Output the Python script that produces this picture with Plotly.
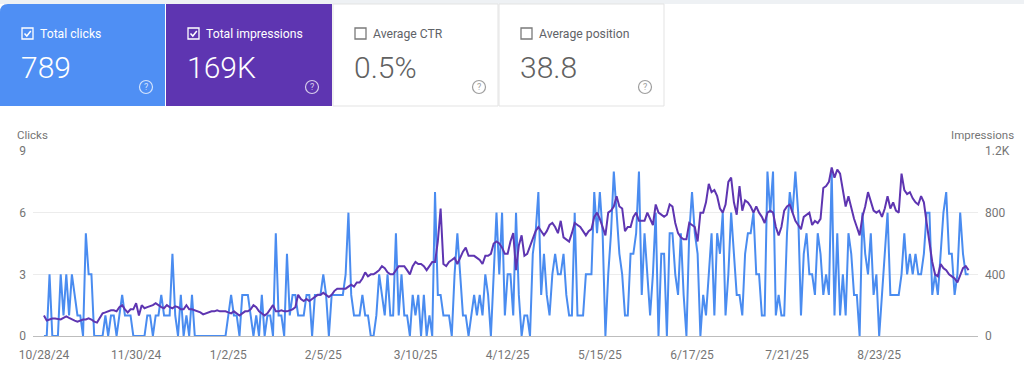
import plotly.graph_objects as go
import pandas as pd

# ---------------- data ----------------
start_date = "2024-10-28"
clicks = [
    0,0,3,0,0,0,3,1,3,1, 3,2,1,1,0,5,3,3,0,0, 0,0,1,0,1,1,0,1,2,1, 1,1,0,0,0,0,0,1,1,0,
    1,1,2,1,1,1,4,1,0,2, 0,1,0,
    2,0,0,0,0,0,0,0,0,0,0,0,0,
    1,2,1,1,0,2,2,2,1,0, 1,0,2,0,1,1,0,5,1,1, 0,4,1,2,2,1,1,1,2,2, 0,2,2,2,3,2,0,2,2,2,
    2,2,3,6,2,1,1,1,2,1, 1,0,0,1,3,2,1,3,1,1, 5,1,3,1,1,0,2,1,2,0, 2,0,1,0,7,2,2,1,1,1,
    0,3,5,3,1,1,0,1,2,1, 2,1,3,2,0,3,6,
    3,6,1,3,3,1,6,2,0,1, 1,0,4,5,7,2,4,2,1,3, 4,3,3,4,2,1,1,6,1,1, 1,3,3,3,7,5,7,5,0,3,
    5,8,6,4,3,1,1,4,4,5, 8,2,5,3,1,3,6,
    0,4,4,0,5,5,3,2,5,2, 0,5,7,5,4,0,2,1,3,5, 1,5,4,6,1,3,6,4,2,2, 1,4,5,5,6,3,3,1,1,8,
    6,8,1,2,1,1,5,7,6,8, 6,1,4,5,3,3,2,5,4,2, 3,
    2,8,1,5,1,3,1,5,4,2, 2,0,6,4,3,5,2,3,0,2, 4,6,2,2,2,2,3,5,3,4, 3,4,3,3,4,6,6,2,3,2,
    4,6,7,4,4,2,3,6,4,3, 3,
]
impressions = [
    133,100,107,113,113,109,107,117,127,117, 107,100,93,100,107,107,115,107,93,87,
    113,147,153,160,167,167,160,187,200,173, 153,173,173,213,133,200,180,187,193,200,
    213,200,187,180,200,187,180,193,187,173, 173,200,173,
    173,167,160,153,140,147,153,160,160,167, 160,160,160,153,147,160,147,133,147,160,
    160,173,200,187,160,147,133,147,173,200, 160,160,167,160,160,167,173,187,267,240,
    227,240,227,240,253,267,267,280,267,253, 267,293,307,
    307,307,307,320,333,320,347,347,373,413, 387,400,400,413,427,453,440,413,400,400,
    427,453,453,453,427,400,453,480,467,467, 453,427,453,480,480,613,827,467,453,480,
    493,507,467,507,547,573,520,520,520,507, 493,467,520,520,533,600,613,
    600,573,533,533,613,667,427,587,653,520, 533,587,627,680,707,680,653,680,720,733,
    707,667,747,640,627,613,667,733,720,707, 680,653,680,693,773,800,760,707,653,800,
    813,840,907,840,827,680,707,707,773,800, 747,747,747,800,760,720,853,
    800,787,773,787,853,840,733,667,640,627, 627,733,720,707,613,800,800,867,987,933,
    947,907,827,800,853,1000,1027,867,787,973, 813,880,867,840,800,840,800,773,733,800,
    813,800,707,653,707,813,840,853,800,747, 720,693,773,787,800,720,747,733,760,960,
    973,
    1000,1093,1027,1080,1053,933,840,907,827,760, 707,653,773,840,933,867,813,800,813,773,
    827,907,827,867,813,800,1053,947,920,933, 893,867,853,907,867,733,600,480,400,387,
    467,440,427,400,387,373,347,400,440,453, 427,
]
tick_dates = ["2024-10-28", "2024-11-30", "2025-01-02", "2025-02-05", "2025-03-10",
              "2025-04-12", "2025-05-15", "2025-06-17", "2025-07-21", "2025-08-23"]
tick_labels = ["10/28/24", "11/30/24", "1/2/25", "2/5/25", "3/10/25",
               "4/12/25", "5/15/25", "6/17/25", "7/21/25", "8/23/25"]
clicks_ticks = [0, 3, 6, 9]
impr_ticks = [0, 400, 800, 1200]
impr_tick_labels = ["0", "400", "800", "1.2K"]

card_titles = ["Total clicks", "Total impressions", "Average CTR", "Average position"]
card_values = ["789", "169K", "0.5%", "38.8"]
card_checked = [True, True, False, False]

dates = pd.date_range(start_date, periods=len(clicks), freq="D")

# ---------------- layout helpers ----------------
W, H = 1024, 381
L, R, T, B = 33, 46, 151, 45
PW, PH = W - L - R, H - T - B


def X(px):
    return (px - L) / PW


def Y(py):
    return (H - B - py) / PH


BLUE_CARD = "#4f8ff4"
PURPLE = "#5e35b1"
LINE_BLUE = "#4a8cf0"
GREY_TXT = "#757575"

fig = go.Figure()
fig.add_trace(go.Scatter(x=dates, y=clicks, mode="lines", name="Clicks",
                         line=dict(color=LINE_BLUE, width=2), hoverinfo="skip"))
fig.add_trace(go.Scatter(x=dates, y=impressions, mode="lines", name="Impressions",
                         yaxis="y2", line=dict(color=PURPLE, width=2), hoverinfo="skip"))

shapes = []
annotations = []

# top light strip
shapes.append(dict(type="rect", xref="paper", yref="paper", x0=X(0), x1=X(W), y0=Y(0), y1=Y(4),
                   fillcolor="#eef1f4", line=dict(width=0), layer="below"))

card_x = [(0, 165), (166, 332), (333, 498), (499, 664)]
card_bg = [BLUE_CARD, PURPLE, "white", "white"]
cy0, cy1 = 4, 106
for i, ((x0, x1), bg) in enumerate(zip(card_x, card_bg)):
    if i == 0:
        r = 8
        path = (f"M {X(x0)},{Y(cy1)} L {X(x0)},{Y(cy0 + r)} Q {X(x0)},{Y(cy0)} {X(x0 + r)},{Y(cy0)} "
                f"L {X(x1)},{Y(cy0)} L {X(x1)},{Y(cy1)} Z")
        shapes.append(dict(type="path", xref="paper", yref="paper", path=path,
                           fillcolor=bg, line=dict(width=0), layer="below"))
    else:
        shapes.append(dict(type="rect", xref="paper", yref="paper",
                           x0=X(x0), x1=X(x1), y0=Y(cy1), y1=Y(cy0),
                           fillcolor=bg, line=dict(width=1, color="#e3e3e3") if bg == "white" else dict(width=0),
                           layer="below"))
    on_color = bg != "white"
    txt_col = "white" if on_color else "#5f6368"
    val_col = "white" if on_color else "#616161"
    # checkbox
    bx0, by0 = x0 + 22, 28
    shapes.append(dict(type="rect", xref="paper", yref="paper",
                       x0=X(bx0), x1=X(bx0 + 11), y0=Y(by0 + 11), y1=Y(by0),
                       fillcolor="rgba(0,0,0,0)",
                       line=dict(width=1.3, color="white" if on_color else "#7a7a7a")))
    if card_checked[i]:
        chk = (f"M {X(bx0 + 2.5)},{Y(by0 + 5.5)} L {X(bx0 + 4.8)},{Y(by0 + 8)} "
               f"L {X(bx0 + 8.8)},{Y(by0 + 3)}")
        shapes.append(dict(type="path", xref="paper", yref="paper", path=chk,
                           line=dict(width=1.5, color="white")))
    annotations.append(dict(xref="paper", yref="paper", x=X(x0 + 38), y=Y(34),
                            text=card_titles[i], showarrow=False, xanchor="left", yanchor="middle",
                            font=dict(size=12.2, color=txt_col, family="Roboto")))
    annotations.append(dict(xref="paper", yref="paper", x=X(x0 + 19), y=Y(67),
                            text=card_values[i], showarrow=False, xanchor="left", yanchor="middle",
                            font=dict(size=30, color=val_col, family="Roboto", weight=300)))
    # help icon
    qx, qy = x0 + 146, 87
    icol = "rgba(255,255,255,0.75)" if on_color else "#9e9e9e"
    shapes.append(dict(type="circle", xref="paper", yref="paper",
                       x0=X(qx - 6.5), x1=X(qx + 6.5), y0=Y(qy + 6.5), y1=Y(qy - 6.5),
                       line=dict(width=1.2, color=icol)))
    annotations.append(dict(xref="paper", yref="paper", x=X(qx), y=Y(qy),
                            text="?", showarrow=False, xanchor="center", yanchor="middle",
                            font=dict(size=9, color=icol, family="Roboto")))

# axis titles
annotations.append(dict(xref="paper", yref="paper", x=X(15), y=Y(135), text="Clicks",
                        showarrow=False, xanchor="left", yanchor="middle",
                        font=dict(size=11.5, color=GREY_TXT, family="Roboto")))
annotations.append(dict(xref="paper", yref="paper", x=X(1016), y=Y(135), text="Impressions",
                        showarrow=False, xanchor="right", yanchor="middle",
                        font=dict(size=11.5, color=GREY_TXT, family="Roboto")))

fig.update_layout(
    width=W, height=H,
    margin=dict(l=L, r=R, t=T, b=B, pad=0),
    paper_bgcolor="white", plot_bgcolor="white",
    showlegend=False,
    font=dict(family="Roboto", color=GREY_TXT, size=12),
    shapes=shapes, annotations=annotations,
    xaxis=dict(type="date",
               range=["2024-10-24 02:00", "2025-09-27 09:00"],
               tickvals=tick_dates, ticktext=tick_labels,
               showgrid=False, zeroline=False, showline=True, linecolor="#bdbdbd", linewidth=1,
               ticks="", ticklabelstandoff=8, tickfont=dict(size=12, color=GREY_TXT)),
    yaxis=dict(range=[0, 9], tickvals=clicks_ticks, showgrid=True, gridcolor="#ececec",
               zeroline=False, showline=False, ticks="", ticklabelstandoff=6,
               tickfont=dict(size=12, color=GREY_TXT)),
    yaxis2=dict(range=[0, 1200], tickvals=impr_ticks, ticktext=impr_tick_labels,
                overlaying="y", side="right", showgrid=False, zeroline=False, showline=False,
                ticks="", ticklabelstandoff=6, tickfont=dict(size=12, color=GREY_TXT)),
)

fig.write_html("out.html",
               config={"displayModeBar": False, "staticPlot": True},
               post_script="document.body.style.margin='0';document.body.style.overflow='hidden';")
